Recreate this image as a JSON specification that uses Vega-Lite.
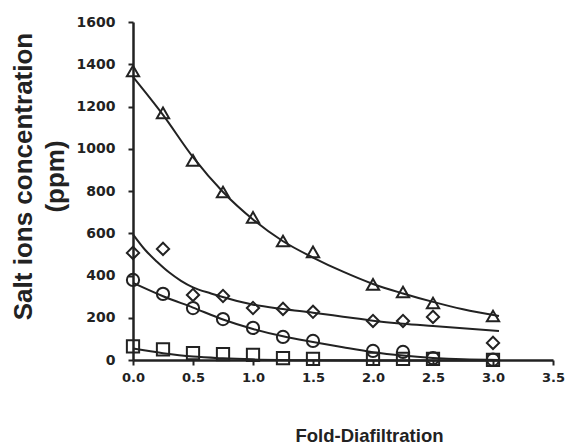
{
  "$schema": "https://vega.github.io/schema/vega-lite/v6.json",
  "width": 420,
  "height": 338,
  "autosize": "none",
  "padding": {"left": 133, "top": 22, "right": 15, "bottom": 84},
  "background": "white",
  "config": {
    "view": {"stroke": null},
    "axis": {
      "grid": false,
      "domainColor": "#222",
      "domainWidth": 2.5,
      "tickColor": "#222",
      "tickWidth": 2,
      "tickSize": 5,
      "labelFont": "DejaVu Sans",
      "labelFontWeight": "bold",
      "labelFontSize": 13,
      "labelColor": "#222",
      "labelFlush": false,
      "titleFont": "Liberation Sans",
      "titleFontWeight": "bold",
      "titleColor": "#222"
    }
  },
  "datasets": {
    "points": [
      {"series": "A", "x": 0, "y": 1368},
      {"series": "A", "x": 0.25, "y": 1170},
      {"series": "A", "x": 0.5, "y": 945},
      {"series": "A", "x": 0.75, "y": 795},
      {"series": "A", "x": 1.0, "y": 675},
      {"series": "A", "x": 1.25, "y": 563},
      {"series": "A", "x": 1.5, "y": 512},
      {"series": "A", "x": 2.0, "y": 358},
      {"series": "A", "x": 2.25, "y": 322},
      {"series": "A", "x": 2.5, "y": 270},
      {"series": "A", "x": 3.0, "y": 208},
      {"series": "B", "x": 0, "y": 507},
      {"series": "B", "x": 0.25, "y": 526},
      {"series": "B", "x": 0.5, "y": 308},
      {"series": "B", "x": 0.75, "y": 303},
      {"series": "B", "x": 1.0, "y": 246},
      {"series": "B", "x": 1.25, "y": 242},
      {"series": "B", "x": 1.5, "y": 228},
      {"series": "B", "x": 2.0, "y": 185},
      {"series": "B", "x": 2.25, "y": 185},
      {"series": "B", "x": 2.5, "y": 204},
      {"series": "B", "x": 3.0, "y": 81},
      {"series": "C", "x": 0, "y": 379},
      {"series": "C", "x": 0.25, "y": 313},
      {"series": "C", "x": 0.5, "y": 246},
      {"series": "C", "x": 0.75, "y": 194},
      {"series": "C", "x": 1.0, "y": 152},
      {"series": "C", "x": 1.25, "y": 109},
      {"series": "C", "x": 1.5, "y": 90},
      {"series": "C", "x": 2.0, "y": 43},
      {"series": "C", "x": 2.25, "y": 38},
      {"series": "C", "x": 2.5, "y": 9},
      {"series": "C", "x": 3.0, "y": 2},
      {"series": "D", "x": 0, "y": 64},
      {"series": "D", "x": 0.25, "y": 50},
      {"series": "D", "x": 0.5, "y": 33},
      {"series": "D", "x": 0.75, "y": 28},
      {"series": "D", "x": 1.0, "y": 24},
      {"series": "D", "x": 1.25, "y": 9},
      {"series": "D", "x": 1.5, "y": 5},
      {"series": "D", "x": 2.0, "y": 5},
      {"series": "D", "x": 2.25, "y": 5},
      {"series": "D", "x": 2.5, "y": 5},
      {"series": "D", "x": 3.0, "y": 1}
    ],
    "fits": [
      {"series": "A", "x": 0, "y": 1340},
      {"series": "A", "x": 0.25, "y": 1160},
      {"series": "A", "x": 0.5, "y": 960},
      {"series": "A", "x": 0.75, "y": 795},
      {"series": "A", "x": 1.0, "y": 665},
      {"series": "A", "x": 1.25, "y": 562},
      {"series": "A", "x": 1.5, "y": 485},
      {"series": "A", "x": 1.75, "y": 418},
      {"series": "A", "x": 2.0, "y": 360},
      {"series": "A", "x": 2.25, "y": 315},
      {"series": "A", "x": 2.5, "y": 275},
      {"series": "A", "x": 2.75, "y": 240},
      {"series": "A", "x": 3.05, "y": 208},
      {"series": "B", "x": 0, "y": 595},
      {"series": "B", "x": 0.1, "y": 522},
      {"series": "B", "x": 0.2, "y": 465},
      {"series": "B", "x": 0.3, "y": 415},
      {"series": "B", "x": 0.4, "y": 375},
      {"series": "B", "x": 0.5, "y": 344},
      {"series": "B", "x": 0.65, "y": 315},
      {"series": "B", "x": 0.8, "y": 290},
      {"series": "B", "x": 1.0, "y": 262},
      {"series": "B", "x": 1.25, "y": 241},
      {"series": "B", "x": 1.5, "y": 224},
      {"series": "B", "x": 1.75, "y": 205},
      {"series": "B", "x": 2.0, "y": 186},
      {"series": "B", "x": 2.25, "y": 172},
      {"series": "B", "x": 2.5, "y": 161},
      {"series": "B", "x": 3.05, "y": 137},
      {"series": "C", "x": 0, "y": 365},
      {"series": "C", "x": 0.25, "y": 302},
      {"series": "C", "x": 0.5, "y": 248},
      {"series": "C", "x": 0.75, "y": 192},
      {"series": "C", "x": 1.0, "y": 147},
      {"series": "C", "x": 1.25, "y": 112},
      {"series": "C", "x": 1.5, "y": 85},
      {"series": "C", "x": 1.75, "y": 60},
      {"series": "C", "x": 2.0, "y": 37},
      {"series": "C", "x": 2.25, "y": 21},
      {"series": "C", "x": 2.5, "y": 10},
      {"series": "C", "x": 2.75, "y": 3},
      {"series": "C", "x": 3.05, "y": 0},
      {"series": "D", "x": 0, "y": 54},
      {"series": "D", "x": 0.25, "y": 32},
      {"series": "D", "x": 0.5, "y": 16},
      {"series": "D", "x": 0.75, "y": 8},
      {"series": "D", "x": 1.0, "y": 3},
      {"series": "D", "x": 1.5, "y": -1},
      {"series": "D", "x": 2.0, "y": -2},
      {"series": "D", "x": 3.05, "y": -2}
    ]
  },
  "layer": [
    {
      "data": {"name": "fits"},
      "mark": {"type": "line", "color": "#222", "strokeWidth": 2, "interpolate": "monotone"},
      "encoding": {
        "x": {"field": "x", "type": "quantitative"},
        "y": {"field": "y", "type": "quantitative"},
        "detail": {"field": "series"}
      }
    },
    {
      "data": {"name": "points"},
      "mark": {"type": "point", "filled": false, "color": "#222", "strokeWidth": 2, "size": 150, "opacity": 1},
      "encoding": {
        "x": {
          "field": "x", "type": "quantitative",
          "scale": {"domain": [0, 3.5], "nice": false},
          "axis": {
            "values": [0, 0.5, 1, 1.5, 2, 2.5, 3, 3.5],
            "format": ".1f",
            "labelPadding": 6,
            "title": "Fold-Diafiltration",
            "titleFontSize": 18.5,
            "titleX": 236,
            "titleY": 81,
            "titleBaseline": "alphabetic"
          }
        },
        "y": {
          "field": "y", "type": "quantitative",
          "scale": {"domain": [0, 1600], "nice": false},
          "axis": {
            "values": [0, 200, 400, 600, 800, 1000, 1200, 1400, 1600],
            "format": "d",
            "labelFontSize": 14,
            "labelPadding": 13,
            "title": ["Salt ions concentration", "(ppm)"],
            "titleFontSize": 26,
            "titleLineHeight": 32,
            "titlePadding": 8,
            "titleY": 154
          }
        },
        "shape": {
          "field": "series", "type": "nominal",
          "scale": {"domain": ["A", "B", "C", "D"], "range": ["triangle-up", "diamond", "circle", "square"]},
          "legend": null
        }
      }
    }
  ]
}
